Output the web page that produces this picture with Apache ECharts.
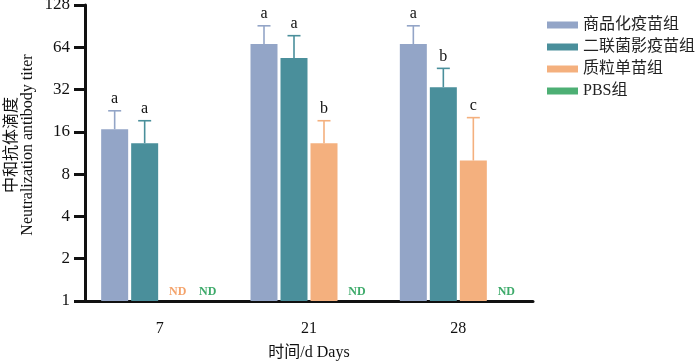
<!DOCTYPE html>
<html>
<head>
<meta charset="utf-8">
<script src="https://cdn.jsdelivr.net/npm/echarts@6/dist/echarts.min.js"></script>
<style>html,body{margin:0;padding:0;background:#fff}#c{width:700px;height:363px}</style>
</head>
<body>
<div id="c"></div>
<script>
const categories = ['7', '21', '28'];
const seriesNames = ['商品化疫苗组', '二联菌影疫苗组', '质粒单苗组', 'PBS组'];
const commercial = [16.7, 67.5, 67.5];
const commercialUpper = [22.6, 91, 91];
const commercialLetters = ['a', 'a', 'a'];
const bivalent = [13.3, 53.6, 33.3];
const bivalentUpper = [19.2, 77.4, 45.3];
const bivalentLetters = ['a', 'a', 'b'];
const plasmid = [null, 13.3, 10.0];
const plasmidUpper = [null, 19.2, 20.2];
const plasmidLetters = [null, 'b', 'c'];
const pbs = [null, null, null];
// not-detected markers: [category index, series index]
const notDetected = [[0, 2], [0, 3], [1, 3], [2, 3]];
const yTicks = [1, 2, 4, 8, 16, 32, 64, 128];
const yTitleCN = '中和抗体滴度';
const yTitleEN = 'Neutralization antibody titer';
const xTitle = '时间/d Days';

const colors = ['#93A5C7', '#4A8F9B', '#F4B07E', '#4DAF74'];
const ndColors = ['#93A5C7', '#4A8F9B', '#F4A36B', '#3DAA6A'];
const BAR_W = 27, BAR_GAP = 3;
const serif = "'Liberation Serif','Noto Sans CJK SC',serif";

function slotOffset(k) { return (k - 1.5) * (BAR_W + BAR_GAP); }

function errorSeries(k, means, uppers, letters) {
  const data = [];
  means.forEach((m, i) => { if (m != null) data.push([i, m, uppers[i]]); });
  return {
    type: 'custom', z: 5, silent: true,
    data: data,
    renderItem: function (params, api) {
      const ci = api.value(0);
      const base = api.coord([ci, api.value(1)]);
      const top = api.coord([ci, api.value(2)]);
      const x = base[0] + slotOffset(k);
      const letter = letters[data[params.dataIndex][0]];
      return {
        type: 'group',
        children: [
          { type: 'line', shape: { x1: x, y1: base[1], x2: x, y2: top[1] }, style: { stroke: colors[k], lineWidth: 1.6 } },
          { type: 'line', shape: { x1: x - 6.5, y1: top[1], x2: x + 6.5, y2: top[1] }, style: { stroke: colors[k], lineWidth: 1.6 } },
          { type: 'text', style: { text: letter || '', x: x, y: top[1] - 4, align: 'center', verticalAlign: 'bottom', font: "16px " + serif, fill: '#111' } }
        ]
      };
    }
  };
}

const chart = echarts.init(document.getElementById('c'), null, { renderer: 'canvas' });
const barData = [commercial, bivalent, plasmid, pbs];
const series = barData.map((d, k) => ({
  name: seriesNames[k], type: 'bar', data: d, barWidth: BAR_W, barGap: (BAR_GAP / BAR_W * 100) + '%',
  itemStyle: { color: colors[k] }, silent: true
}));
series.push(errorSeries(0, commercial, commercialUpper, commercialLetters));
series.push(errorSeries(1, bivalent, bivalentUpper, bivalentLetters));
series.push(errorSeries(2, plasmid, plasmidUpper, plasmidLetters));
series.push({
  type: 'custom', z: 6, silent: true,
  data: notDetected.map(d => [d[0], 1, d[1]]),
  renderItem: function (params, api) {
    const p = api.coord([api.value(0), api.value(1)]);
    const k = api.value(2);
    return { type: 'text', style: { text: 'ND', x: p[0] + slotOffset(k) + 3, y: p[1] - 3, align: 'center', verticalAlign: 'bottom', font: "bold 12px " + serif, fill: ndColors[k] } };
  }
});

chart.setOption({
  animation: false,
  backgroundColor: '#fff',
  grid: { left: 85, right: 167, top: 5, bottom: 62, containLabel: false, outerBoundsMode: 'none' },
  graphic: [
    { type: 'text', x: 12, y: 145, rotation: Math.PI / 2, silent: true,
      style: { text: yTitleCN, font: "16px " + serif, fill: '#111', align: 'center', verticalAlign: 'middle' } },
    { type: 'text', x: 28, y: 145, rotation: Math.PI / 2, silent: true,
      style: { text: yTitleEN, font: "16px " + serif, fill: '#111', align: 'center', verticalAlign: 'middle' } }
  ],
  legend: {
    data: seriesNames, orient: 'vertical', left: 542, top: 12, icon: 'rect',
    itemWidth: 31, itemHeight: 7, itemGap: 6,
    textStyle: { fontFamily: serif, fontSize: 16, color: '#222' }
  },
  xAxis: {
    type: 'category', data: categories,
    name: xTitle, nameLocation: 'middle', nameGap: 44,
    nameTextStyle: { fontFamily: serif, fontSize: 16, color: '#111' },
    axisLine: { lineStyle: { color: '#111', width: 3 } },
    axisTick: { alignWithLabel: true, length: 11, lineStyle: { color: '#111', width: 3 } },
    axisLabel: { fontFamily: serif, fontSize: 16, color: '#111', margin: 20 }
  },
  yAxis: {
    type: 'log', logBase: 2, min: 1, max: 128,
    axisLine: { show: true, lineStyle: { color: '#111', width: 3 } },
    axisTick: { show: true, length: 11, lineStyle: { color: '#111', width: 3 } },
    axisLabel: { fontFamily: serif, fontSize: 17, color: '#111', margin: 15,
      formatter: v => (yTicks.indexOf(Math.round(v)) >= 0 ? String(Math.round(v)) : '') },
    splitLine: { show: false }
  },
  series: series
});
</script>
</body>
</html>
